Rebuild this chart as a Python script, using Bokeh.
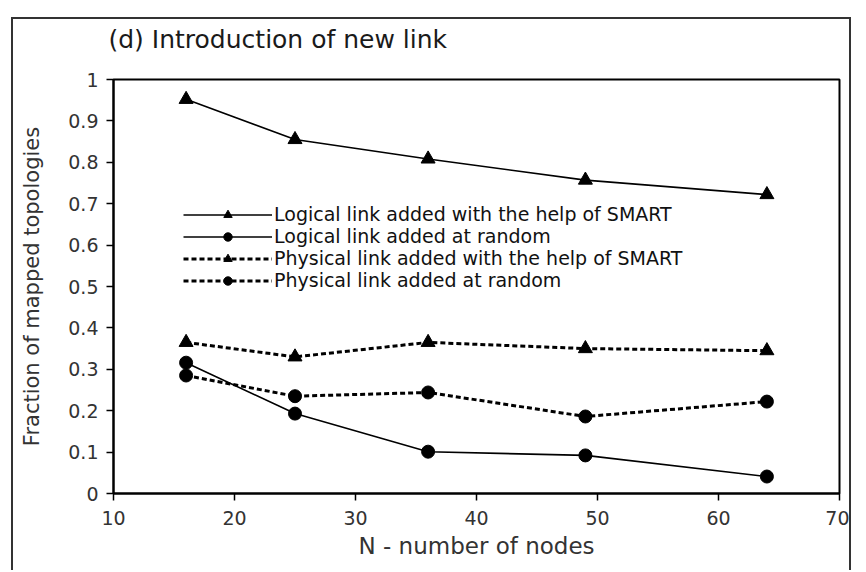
from bokeh.plotting import figure
from bokeh.models import Legend, LegendItem, FixedTicker
from bokeh.embed import file_html
from bokeh.resources import INLINE

nodes = [16, 25, 36, 49, 64]
logical_smart = [0.952, 0.855, 0.808, 0.757, 0.722]
logical_random = [0.316, 0.193, 0.101, 0.092, 0.041]
physical_smart = [0.365, 0.330, 0.365, 0.350, 0.345]
physical_random = [0.285, 0.235, 0.244, 0.186, 0.222]

series_names = [
    "Logical link added with the help of SMART",
    "Logical link added at random",
    "Physical link added with the help of SMART",
    "Physical link added at random",
]
x_ticks = [10, 20, 30, 40, 50, 60, 70]
y_ticks = [0, 0.1, 0.2, 0.3, 0.4, 0.5, 0.6, 0.7, 0.8, 0.9, 1]

FONT = "DejaVu Sans"

p = figure(width=840, height=553, output_backend="svg", toolbar_location=None,
           x_range=(10, 70), y_range=(0, 1),
           min_border_left=100, min_border_right=14, min_border_top=60, min_border_bottom=79)
p.margin = (17, 0, 0, 11)
p.styles = {"border-top": "2px solid #333333",
            "border-left": "2px solid #333333",
            "border-right": "2px solid #333333"}
p.background_fill_color = "white"
p.border_fill_color = "white"
p.outline_line_color = "black"
p.outline_line_width = 2
p.grid.visible = False

p.title.text = "(d) Introduction of new link"
p.title.text_font = FONT
p.title.text_font_size = "25px"
p.title.text_font_style = "normal"
p.title.text_color = "#1a1a1a"
p.title.vertical_align = "top"
p.title.standoff = 9
p.title.padding = (0, 0, 0, 19)
p.title.offset = -5

for ax in (p.xaxis[0], p.yaxis[0]):
    ax.axis_line_color = "black"
    ax.axis_line_width = 2
    ax.major_tick_line_color = "black"
    ax.major_tick_line_width = 1.5
    ax.major_tick_in = 0
    ax.major_tick_out = 7
    ax.minor_tick_line_color = None
    ax.major_label_text_font = FONT
    ax.major_label_text_color = "#333333"
    ax.axis_label_text_font = FONT
    ax.axis_label_text_font_style = "normal"
    ax.axis_label_text_color = "#333333"

p.xaxis.ticker = FixedTicker(ticks=x_ticks)
p.yaxis.ticker = FixedTicker(ticks=y_ticks)
p.xaxis.major_label_overrides = {t: str(t) for t in x_ticks}
p.yaxis.major_label_overrides = {t: ("%g" % t) for t in y_ticks}
p.xaxis.major_label_text_font_size = "19px"
p.yaxis.major_label_text_font_size = "19px"
p.xaxis.major_label_standoff = 10
p.yaxis.major_label_standoff = 8
p.xaxis.axis_label = "N - number of nodes"
p.yaxis.axis_label = "Fraction of mapped topologies"
p.xaxis.axis_label_text_font_size = "23px"
p.yaxis.axis_label_text_font_size = "21px"
p.xaxis.axis_label_standoff = 5
p.yaxis.axis_label_standoff = 21

l1 = p.line(nodes, logical_smart, line_color="black", line_width=1.6)
m1 = p.scatter(nodes, logical_smart, marker="triangle", size=14, color="black")
l2 = p.line(nodes, logical_random, line_color="black", line_width=1.6)
m2 = p.scatter(nodes, logical_random, marker="circle", size=13, color="black")
l3 = p.line(nodes, physical_smart, line_color="black", line_width=3, line_dash="5 3")
m3 = p.scatter(nodes, physical_smart, marker="triangle", size=14, color="black")
l4 = p.line(nodes, physical_random, line_color="black", line_width=3, line_dash="5 3")
m4 = p.scatter(nodes, physical_random, marker="circle", size=13, color="black")

legend = Legend(items=[
    LegendItem(label=series_names[0], renderers=[l1, m1]),
    LegendItem(label=series_names[1], renderers=[l2, m2]),
    LegendItem(label=series_names[2], renderers=[l3, m3]),
    LegendItem(label=series_names[3], renderers=[l4, m4]),
], location=(70, 202))
legend.border_line_color = None
legend.background_fill_alpha = 0
legend.padding = 0
legend.margin = 0
legend.spacing = 0
legend.glyph_width = 89
legend.glyph_height = 21
legend.label_height = 21
legend.label_standoff = 2
legend.label_text_font = FONT
legend.label_text_font_size = "19px"
legend.label_text_color = "#111111"
p.add_layout(legend, "center")

open("out.html", "w").write(file_html(p, INLINE))
